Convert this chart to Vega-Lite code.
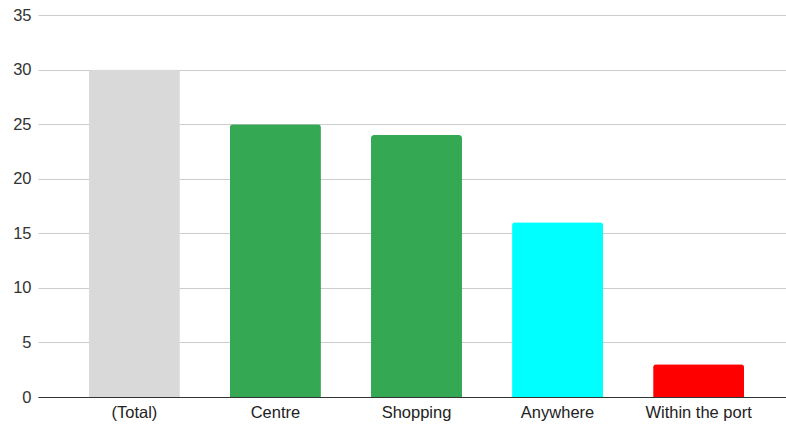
{
  "$schema": "https://vega.github.io/schema/vega-lite/v6.json",
  "autosize": "none",
  "padding": {"left": 38, "top": 15, "right": 0, "bottom": 27},
  "width": 757,
  "height": 382,
  "background": "white",
  "config": {
    "view": {"stroke": null},
    "font": "Liberation Sans"
  },
  "data": {
    "values": [
      {"category": "(Total)", "value": 30, "color": "#d9d9d9"},
      {"category": "Centre", "value": 25, "color": "#34a853"},
      {"category": "Shopping", "value": 24, "color": "#34a853"},
      {"category": "Anywhere", "value": 16, "color": "#00ffff"},
      {"category": "Within the port", "value": 3, "color": "#ff0000"}
    ]
  },
  "mark": {"type": "bar", "cornerRadiusTopLeft": 3, "cornerRadiusTopRight": 3},
  "encoding": {
    "x": {
      "field": "category",
      "type": "nominal",
      "sort": null,
      "scale": {"paddingInner": 0.355, "paddingOuter": 0.361},
      "axis": {
        "title": null,
        "labelAngle": 0,
        "ticks": false,
        "domainColor": "#333333",
        "domainWidth": 1,
        "labelFont": "Liberation Sans",
        "labelFontSize": 16.5,
        "labelColor": "#222222",
        "labelPadding": 7
      }
    },
    "y": {
      "field": "value",
      "type": "quantitative",
      "scale": {"domain": [0, 35], "nice": false},
      "axis": {
        "title": null,
        "values": [0, 5, 10, 15, 20, 25, 30, 35],
        "ticks": false,
        "domain": false,
        "gridColor": "#cccccc",
        "gridWidth": 1,
        "labelFont": "Liberation Sans",
        "labelFontSize": 16.5,
        "labelColor": "#333333",
        "labelPadding": 7
      }
    },
    "color": {"field": "color", "type": "nominal", "scale": null, "legend": null}
  }
}
